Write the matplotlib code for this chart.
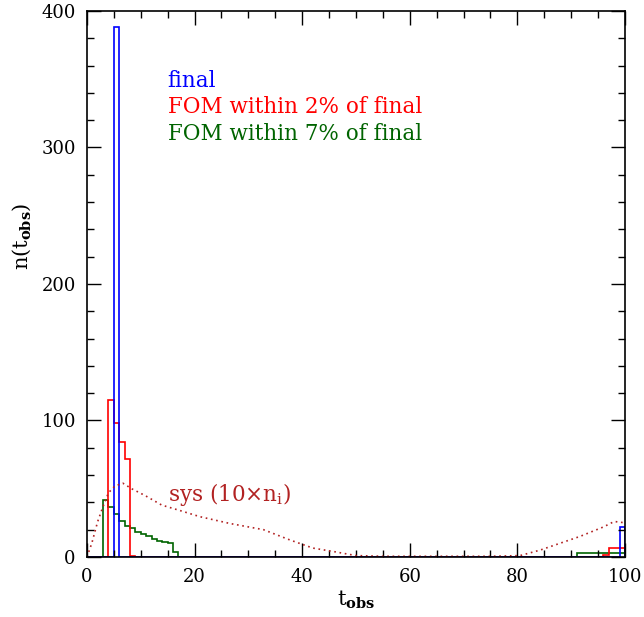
import numpy as np
import matplotlib
matplotlib.use("Agg")
import matplotlib.pyplot as plt
from matplotlib.ticker import MultipleLocator

plt.rcParams["font.family"] = "DejaVu Serif"
plt.rcParams["mathtext.fontset"] = "dejavuserif"

# histogram bins: width 1 from 0 to 100
edges = np.arange(0, 101, 1)

# nonzero bins (left edge, count)
final_lo = [5, 99]
final_n = [388, 22]

fom2_lo = [4, 5, 6, 7, 8, 96, 97, 98, 99]
fom2_n = [115, 98, 84, 72, 1, 1.5, 6.5, 6.5, 6.5]

fom7_lo = [3, 4, 5, 6, 7, 8, 9, 10, 11, 12, 13, 14, 15, 16,
           91, 92, 93, 94, 95, 96, 97, 98, 99]
fom7_n = [42, 36.5, 31.5, 26.5, 23, 21, 18.5, 16.5, 15, 13.5, 12, 11, 10, 4,
          2.7, 2.7, 2.7, 2.7, 3.2, 3.2, 3.2, 3.2, 3.2]

# systematics curve (10 x n_i)
sys_t = [0, 0.9, 2, 3, 4, 5.2, 6.7, 8.3, 10.8, 13.9, 17.3, 21, 26.6, 32.8,
         37.7, 42, 45.8, 50, 55, 60, 65, 70, 75, 80.5, 84.2, 87.9, 91.6, 96,
         98, 100]
sys_n = [0, 10, 26, 37, 47, 52, 54, 50, 45, 38, 34, 29.5, 24.5, 20,
         12.5, 6.5, 4, 1, 0.5, 0.5, 0.5, 0.5, 0.5, 1, 5, 10, 15, 22,
         26, 25]


def full(lo, n):
    v = np.zeros(len(edges) - 1)
    v[np.array(lo)] = n
    return v


fig = plt.figure(figsize=(6.44, 6.17), dpi=100)
ax = fig.add_axes([0.135, 0.0973, 0.8355, 0.885])

ax.plot(sys_t, sys_n, color="#b22222", lw=1.2, ls=(0, (1, 2.2)))
ax.stairs(full(fom7_lo, fom7_n), edges, color="#006400", lw=1.2)
ax.stairs(full(fom2_lo, fom2_n), edges, color="red", lw=1.2)
ax.stairs(full(final_lo, final_n), edges, color="blue", lw=1.2)

ax.set_xlim(0, 100)
ax.set_ylim(0, 400)
ax.xaxis.set_major_locator(MultipleLocator(20))
ax.xaxis.set_minor_locator(MultipleLocator(5))
ax.yaxis.set_major_locator(MultipleLocator(100))
ax.yaxis.set_minor_locator(MultipleLocator(20))
ax.tick_params(which="both", direction="in", top=True, right=True, labelsize=13)
ax.tick_params(which="major", length=10, width=1, pad=8)
ax.tick_params(which="minor", length=5, width=1)
for s in ax.spines.values():
    s.set_linewidth(1.2)

ax.set_xlabel(r"t$_{\mathbf{obs}}$", fontsize=15, labelpad=2)
ax.set_ylabel(r"n(t$_{\mathbf{obs}}$)", fontsize=15)
ax.yaxis.set_label_coords(-0.100, 0.588)

ax.text(15, 349, "final", color="blue", fontsize=15.5, va="center")
ax.text(15, 329.5, "FOM within 2% of final", color="red", fontsize=15.5, va="center")
ax.text(15, 310, "FOM within 7% of final", color="#006400", fontsize=15.5, va="center")
ax.text(15, 45.5, r"sys (10$\times$n$_{\rm i}$)", color="#b22222", fontsize=15.5, va="center")

fig.savefig("out.png", dpi=100)
